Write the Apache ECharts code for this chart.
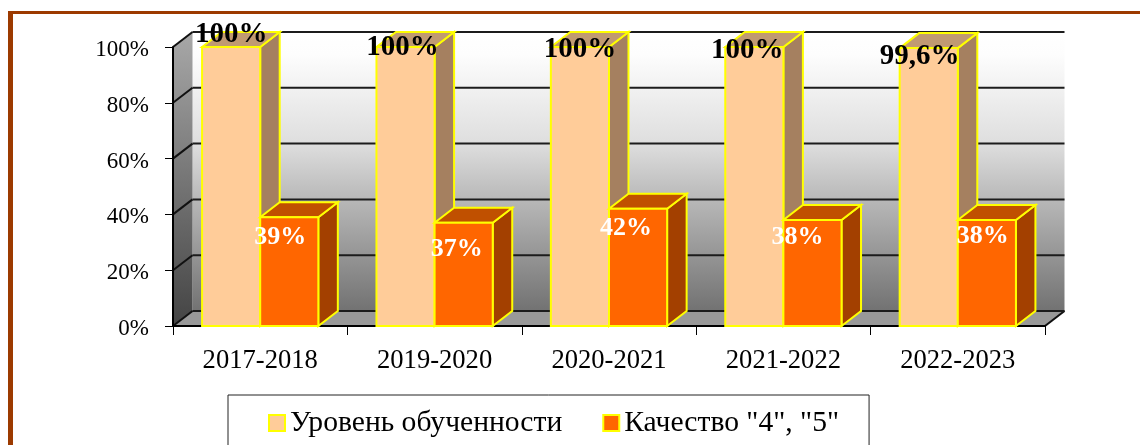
<!DOCTYPE html>
<html lang="ru">
    <head>
        <meta charset="UTF-8" />
        <title>Уровень обученности</title>
        <script src="https://cdn.jsdelivr.net/npm/echarts@6/dist/echarts.min.js"></script>
        <style>
            html, body { margin: 0; padding: 0; background: #fff; overflow: hidden; }
            #chart { width: 1140px; height: 445px; }
        </style>
    </head>
    <body>
        <div id="chart"></div>
        <script>
            const categories = ["2017-2018", "2019-2020", "2020-2021", "2021-2022", "2022-2023"];
            const levelName = "Уровень обученности";
            const qualityName = 'Качество "4", "5"';
            const levelValues = [100, 100, 100, 100, 99.6];
            const qualityValues = [39, 37, 42, 38, 38];
            const valueTicks = [0, 20, 40, 60, 80, 100];

            //hand placed labels, as in the original: shift from the top centre of the bar front
            const levelLabelShift = [[0, -12], [-3, 1], [0, 3], [-7, 4], [-9, 8]];
            const qualityLabelShift = [[-9, 20], [-7, 27], [-12, 19], [-15, 17], [-4, 16]];

            //fake 3d depth
            const depthX = 19.5;
            const depthY = 15;
            const edge = "#ffff00";
            const serif = "Liberation Serif";

            function poly(points, fill, stroke, width) {
                return {
                    type: "polygon",
                    shape: { points: points },
                    style: { fill: fill, stroke: stroke || null, lineWidth: width || 0 },
                };
            }

            function line(x1, y1, x2, y2, color, width) {
                return {
                    type: "line",
                    shape: { x1: x1, y1: y1, x2: x2, y2: y2 },
                    style: { stroke: color, lineWidth: width },
                };
            }

            //walls and floor, one line set per value tick
            function renderWall(params, api) {
                const box = params.coordSys;
                const left = box.x;
                const right = box.x + box.width;
                const top = box.y;
                const bottom = box.y + box.height;
                const y = api.coord([0, api.value(1)])[1];
                const children = [];
                if (params.dataIndex === 0) {
                    children.push(
                        poly([[left + depthX, top - depthY], [right + depthX, top - depthY], [right + depthX, bottom - depthY], [left + depthX, bottom - depthY]],
                            new echarts.graphic.LinearGradient(0, 0, 0, 1, [
                                { offset: 0, color: "#ffffff" },
                                { offset: 0.08, color: "#fdfdfd" },
                                { offset: 0.4, color: "#dedede" },
                                { offset: 0.6, color: "#b8b8b8" },
                                { offset: 1, color: "#727272" },
                            ])),
                        poly([[left, top], [left + depthX, top - depthY], [left + depthX, bottom - depthY], [left, bottom]],
                            new echarts.graphic.LinearGradient(0, 0, 0, 1, [
                                { offset: 0, color: "#a8a8a8" },
                                { offset: 1, color: "#444444" },
                            ])),
                        poly([[left, bottom], [left + depthX, bottom - depthY], [right + depthX, bottom - depthY], [right, bottom]], "#999999"),
                        line(right, bottom, right + depthX, bottom - depthY, "#111", 2)
                    );
                }
                children.push(
                    line(left + depthX, y - depthY, right + depthX, y - depthY, "#1c1c1c", 2),
                    line(left, y, left + depthX, y - depthY, "#111", 2)
                );
                return { type: "group", children: children };
            }

            //bar with front, top and side faces; side 0 sits left of the category centre, side 1 right
            function barRenderer(side, colors, shifts, labelSize, labelColor) {
                return function(params, api) {
                    const i = api.value(0);
                    const v = api.value(1);
                    const top = api.coord([i, v]);
                    const floorY = api.coord([i, 0])[1];
                    const w = api.size([1, 0])[0] / 3;
                    const x0 = top[0] - w + side * w;
                    const x1 = x0 + w;
                    const y = top[1];
                    const shift = shifts[params.dataIndex];
                    return {
                        type: "group",
                        children: [
                            poly([[x1, y], [x1 + depthX, y - depthY], [x1 + depthX, floorY - depthY], [x1, floorY]], colors[2], edge, 2),
                            poly([[x0, y], [x0 + depthX, y - depthY], [x1 + depthX, y - depthY], [x1, y]], colors[1], edge, 2),
                            poly([[x0, y], [x1, y], [x1, floorY], [x0, floorY]], colors[0], edge, 2),
                            {
                                type: "text",
                                z2: 10,
                                x: (x0 + x1) / 2 + shift[0],
                                y: y + shift[1],
                                style: {
                                    text: String(v).replace(".", ",") + "%",
                                    fill: labelColor,
                                    font: "bold " + labelSize + "px '" + serif + "'",
                                    align: "center",
                                    verticalAlign: "middle",
                                },
                            },
                        ],
                    };
                };
            }

            const chart = echarts.init(document.getElementById("chart"));
            chart.setOption({
                animation: false,
                backgroundColor: "#fff",
                grid: { left: 173, right: 95, top: 47, bottom: 119 },
                graphic: [
                    { type: "rect", shape: { x: 8, y: 11, width: 1132, height: 3 }, style: { fill: "#9c3a00" } },
                    { type: "rect", shape: { x: 8, y: 11, width: 5, height: 434 }, style: { fill: "#9c3a00" } },
                ],
                legend: {
                    data: [levelName, qualityName],
                    left: 228,
                    top: 395,
                    padding: [13, 30, 40, 40],
                    icon: "rect",
                    itemWidth: 16,
                    itemHeight: 16,
                    itemGap: 40,
                    backgroundColor: "#fff",
                    borderColor: "#222",
                    borderWidth: 1,
                    borderRadius: 0,
                    textStyle: { fontFamily: serif, fontSize: 29.6, color: "#000", lineHeight: 6, verticalAlign: "top", height: 16 },
                },
                xAxis: {
                    type: "category",
                    data: categories,
                    z: 3,
                    axisLine: { lineStyle: { color: "#000", width: 2 } },
                    axisTick: { show: true, alignWithLabel: false, length: 9, lineStyle: { color: "#000", width: 1 } },
                    axisLabel: { fontFamily: serif, fontSize: 26.6, color: "#000", margin: 22 },
                },
                yAxis: {
                    type: "value",
                    min: 0,
                    max: 100,
                    interval: 20,
                    z: 3,
                    splitLine: { show: false },
                    axisLine: { show: true, lineStyle: { color: "#000", width: 2 } },
                    axisTick: { show: true, length: 8, lineStyle: { color: "#000", width: 1 } },
                    axisLabel: { fontFamily: serif, fontSize: 23, color: "#000", margin: 24, lineHeight: 6, verticalAlign: "top", formatter: "{value}%" },
                },
                series: [
                    {
                        type: "custom",
                        z: 1,
                        silent: true,
                        renderItem: renderWall,
                        data: valueTicks.map(v => [0, v]),
                    },
                    {
                        type: "custom",
                        name: levelName,
                        z: 4,
                        renderItem: barRenderer(0, ["#ffcc99", "#c09a72", "#a58060"], levelLabelShift, 29, "#000"),
                        itemStyle: { color: "#ffcc99", borderColor: edge, borderWidth: 3 },
                        data: levelValues.map((v, i) => [i, v]),
                    },
                    {
                        type: "custom",
                        name: qualityName,
                        z: 5,
                        renderItem: barRenderer(1, ["#ff6600", "#c05000", "#a34000"], qualityLabelShift, 26, "#fff"),
                        itemStyle: { color: "#ff6600", borderColor: edge, borderWidth: 3 },
                        data: qualityValues.map((v, i) => [i, v]),
                    },
                ],
            });
        </script>
    </body>
</html>
